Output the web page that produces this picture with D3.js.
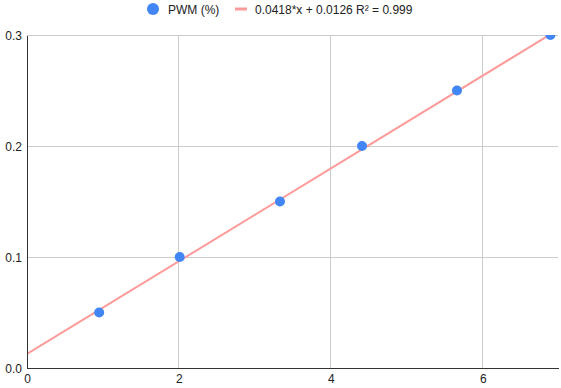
<!DOCTYPE html>
<meta charset="utf-8">
<script src="https://d3js.org/d3.v7.min.js"></script>
<style>
  body { margin: 0; background: #fff; }
  text { font-family: "Liberation Sans", Arial, sans-serif; }
</style>
<div id="chart"></div>
<script>
  // data
  var pwmX = [0.95, 2.01, 3.33, 4.41, 5.66, 6.89];
  var pwmY = [0.05, 0.10, 0.15, 0.20, 0.25, 0.30];
  var slope = 0.0418, intercept = 0.0126;
  var xTicks = [0, 2, 4, 6];
  var yTicks = [0, 0.1, 0.2, 0.3];
  var seriesName = "PWM (%)";
  var trendLabel = "0.0418*x + 0.0126 R\u00b2 = 0.999";

  var W = 561, H = 388;
  var margin = {top: 35, right: 3, bottom: 20, left: 27};
  var width = W - margin.left - margin.right,
      height = H - margin.top - margin.bottom;

  var svg = d3.select("#chart").append("svg")
      .attr("width", W).attr("height", H);

  var g = svg.append("g")
      .attr("transform", "translate(" + margin.left + "," + margin.top + ")");

  var x = d3.scaleLinear().domain([0, 6.99]).range([0, width]);
  var y = d3.scaleLinear().domain([0, 0.3]).range([height, 0]);

  // gridlines
  g.selectAll(".hgrid").data(yTicks.slice(1)).enter().append("line")
      .attr("x1", 0).attr("x2", width)
      .attr("y1", d => y(d)).attr("y2", d => y(d))
      .attr("stroke", "#cccccc").attr("stroke-width", 1)
      .attr("shape-rendering", "crispEdges");
  g.selectAll(".vgrid").data(xTicks.slice(1)).enter().append("line")
      .attr("x1", d => x(d)).attr("x2", d => x(d))
      .attr("y1", 0).attr("y2", height)
      .attr("stroke", "#cccccc").attr("stroke-width", 1)
      .attr("shape-rendering", "crispEdges");

  g.append("clipPath").attr("id", "plot")
    .append("rect").attr("width", width).attr("height", height);

  var plot = g.append("g").attr("clip-path", "url(#plot)");

  // trendline
  var xd = x.domain();
  plot.append("line")
      .attr("x1", x(xd[0])).attr("y1", y(slope * xd[0] + intercept))
      .attr("x2", x(xd[1])).attr("y2", y(slope * xd[1] + intercept))
      .attr("stroke", "#ff9a9a").attr("stroke-width", 2);

  // points
  plot.selectAll("circle").data(pwmX).enter().append("circle")
      .attr("cx", d => x(d))
      .attr("cy", (d, i) => y(pwmY[i]))
      .attr("r", 5)
      .attr("fill", "#4285f4");

  // axes
  var xAxis = g.append("g")
      .attr("transform", "translate(0," + height + ")")
      .call(d3.axisBottom(x).tickValues(xTicks).tickSize(0).tickPadding(6).tickFormat(d3.format("d")));
  var yAxis = g.append("g")
      .call(d3.axisLeft(y).tickValues(yTicks).tickSize(0).tickPadding(5).tickFormat(d3.format(".1f")));
  [xAxis, yAxis].forEach(function(a) {
    a.select(".domain").attr("stroke", "#333333").attr("shape-rendering", "crispEdges");
    a.selectAll("text").attr("fill", "#222222").style("font-size", "12px")
      .style("font-family", "'Liberation Sans', Arial, sans-serif");
  });
  yAxis.selectAll(".tick text").attr("dy", "0.4em");

  // legend
  var legend = svg.append("g").attr("transform", "translate(0,9)");
  legend.append("circle").attr("cx", 153).attr("cy", 0).attr("r", 6).attr("fill", "#4285f4");
  legend.append("text").attr("x", 168).attr("y", 4.5).text(seriesName)
      .style("font-size", "12px").attr("fill", "#222222");
  legend.append("line").attr("x1", 235).attr("x2", 247).attr("y1", 0).attr("y2", 0)
      .attr("stroke", "#ff9a9a").attr("stroke-width", 3);
  legend.append("text").attr("x", 255).attr("y", 4.5).text(trendLabel)
      .style("font-size", "12px").attr("fill", "#222222");
</script>
